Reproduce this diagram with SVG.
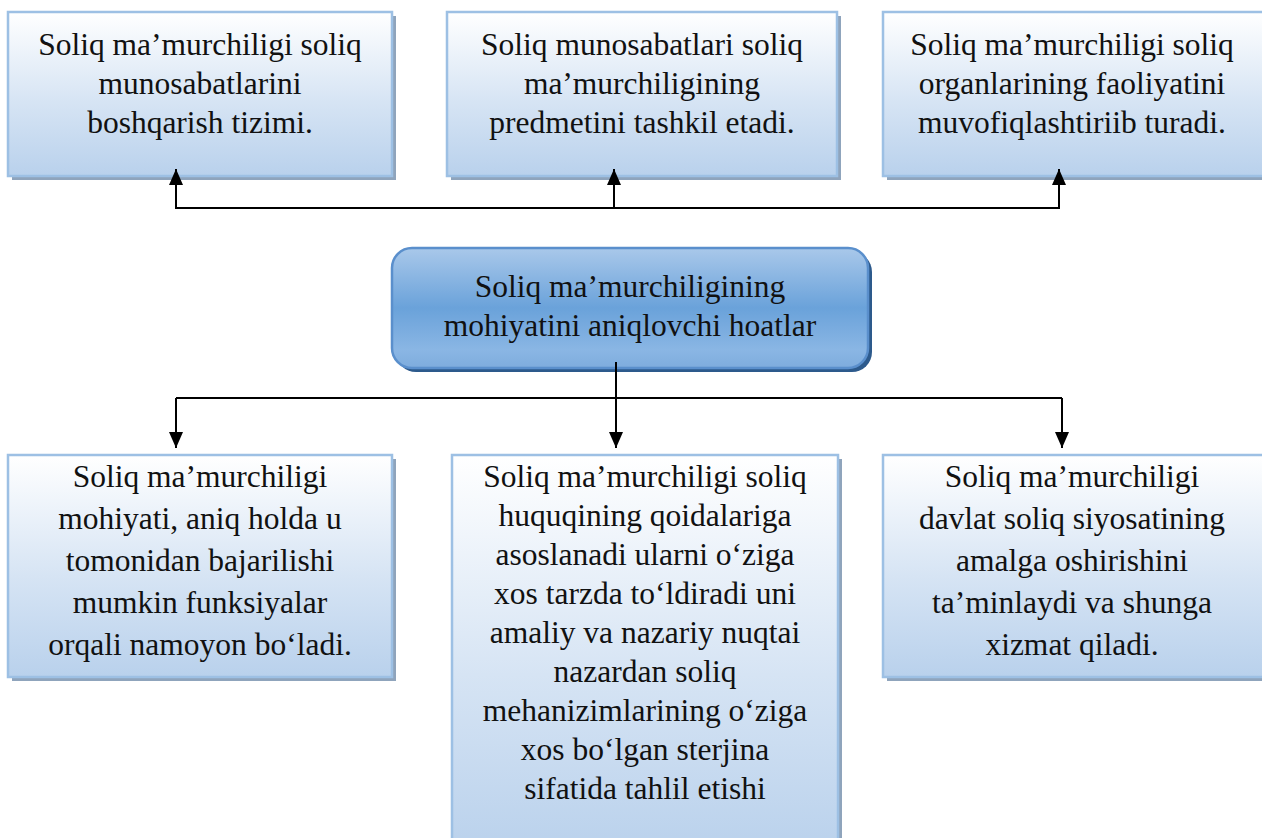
<svg xmlns="http://www.w3.org/2000/svg" width="1262" height="838" viewBox="0 0 1262 838">
<defs>
<linearGradient id="gBox" x1="0" y1="0" x2="0" y2="1">
<stop offset="0" stop-color="#ffffff"/>
<stop offset="0.55" stop-color="#d6e4f4"/>
<stop offset="1" stop-color="#b9d1ec"/>
</linearGradient>
<linearGradient id="gCenter" x1="0" y1="0" x2="0" y2="1">
<stop offset="0" stop-color="#a9c8ea"/>
<stop offset="0.5" stop-color="#6aa2da"/>
<stop offset="0.85" stop-color="#8ab6e4"/>
<stop offset="1" stop-color="#7eacdd"/>
</linearGradient>
<marker id="ah" viewBox="0 0 16 14" refX="16" refY="7" markerWidth="16" markerHeight="14" markerUnits="userSpaceOnUse" orient="auto">
<path d="M0,0 L16,7 L0,14 Z" fill="#000"/>
</marker>
</defs>
<style>
.box{fill:url(#gBox);stroke:#9dc0e4;stroke-width:2.5}
.shadow{fill:#8fa4bc}
.cbox{fill:url(#gCenter);stroke:#5a8fcc;stroke-width:2.5}
.cshadow{fill:#2d5a8c}
text{font-family:"Liberation Serif","Times New Roman",Tinos,"Noto Serif","DejaVu Serif",FreeSerif,Times,serif;font-size:31.5px;fill:#111;text-anchor:middle}
.c{stroke:#000;stroke-width:2;fill:none}
.ca{stroke:#000;stroke-width:2;fill:none;marker-end:url(#ah)}
</style>
<rect width="1262" height="838" fill="#ffffff"/>

<g id="top1">
<rect class="shadow" x="12" y="16" width="384" height="164"/>
<rect class="box" x="8" y="12" width="384" height="164"/>
<text x="200" y="55">Soliq ma’murchiligi soliq</text>
<text x="200" y="94">munosabatlarini</text>
<text x="200" y="133">boshqarish tizimi.</text>
</g>

<g id="top2">
<rect class="shadow" x="451" y="16" width="390" height="164"/>
<rect class="box" x="447" y="12" width="390" height="164"/>
<text x="642" y="55">Soliq munosabatlari soliq</text>
<text x="642" y="94">ma’murchiligining</text>
<text x="642" y="133">predmetini tashkil etadi.</text>
</g>

<g id="top3">
<rect class="shadow" x="887" y="16" width="390" height="164"/>
<rect class="box" x="883" y="12" width="390" height="164"/>
<text x="1072" y="55">Soliq ma’murchiligi soliq</text>
<text x="1072" y="94">organlarining faoliyatini</text>
<text x="1072" y="133">muvofiqlashtiriib turadi.</text>
</g>

<g id="center">
<rect class="cshadow" x="396" y="252" width="476" height="120" rx="20"/>
<rect class="cbox" x="392" y="248" width="476" height="120" rx="20"/>
<text x="630" y="297">Soliq ma’murchiligining</text>
<text x="630" y="336">mohiyatini aniqlovchi hoatlar</text>
</g>

<g id="bottom1">
<rect class="shadow" x="12" y="459" width="384" height="222"/>
<rect class="box" x="8" y="455" width="384" height="222"/>
<text x="200" y="487">Soliq ma’murchiligi</text>
<text x="200" y="529">mohiyati, aniq holda u</text>
<text x="200" y="571">tomonidan bajarilishi</text>
<text x="200" y="613">mumkin funksiyalar</text>
<text x="200" y="655">orqali namoyon bo‘ladi.</text>
</g>

<g id="bottom2">
<rect class="shadow" x="456" y="459" width="386" height="400"/>
<rect class="box" x="452" y="455" width="386" height="400"/>
<text x="645" y="487">Soliq ma’murchiligi soliq</text>
<text x="645" y="526">huquqining qoidalariga</text>
<text x="645" y="565">asoslanadi ularni o‘ziga</text>
<text x="645" y="604">xos tarzda to‘ldiradi uni</text>
<text x="645" y="643">amaliy va nazariy nuqtai</text>
<text x="645" y="682">nazardan soliq</text>
<text x="645" y="721">mehanizimlarining o‘ziga</text>
<text x="645" y="760">xos bo‘lgan sterjina</text>
<text x="645" y="799">sifatida tahlil etishi</text>
</g>

<g id="bottom3">
<rect class="shadow" x="887" y="459" width="390" height="222"/>
<rect class="box" x="883" y="455" width="390" height="222"/>
<text x="1072" y="487">Soliq ma’murchiligi</text>
<text x="1072" y="529">davlat soliq siyosatining</text>
<text x="1072" y="571">amalga oshirishini</text>
<text x="1072" y="613">ta’minlaydi va shunga</text>
<text x="1072" y="655">xizmat qiladi.</text>
</g>

<g id="connectors">
<polyline class="c" points="176,185 176,208 1059,208 1059,185"/>
<line class="c" x1="614" y1="208" x2="614" y2="185"/>
<line class="ca" x1="176" y1="190" x2="176" y2="169"/>
<line class="ca" x1="614" y1="190" x2="614" y2="169"/>
<line class="ca" x1="1059" y1="190" x2="1059" y2="169"/>
<line class="c" x1="616" y1="362" x2="616" y2="398"/>
<line class="c" x1="176" y1="398" x2="1062" y2="398"/>
<line class="ca" x1="176" y1="398" x2="176" y2="448"/>
<line class="ca" x1="616" y1="398" x2="616" y2="448"/>
<line class="ca" x1="1062" y1="398" x2="1062" y2="448"/>
</g>
</svg>
